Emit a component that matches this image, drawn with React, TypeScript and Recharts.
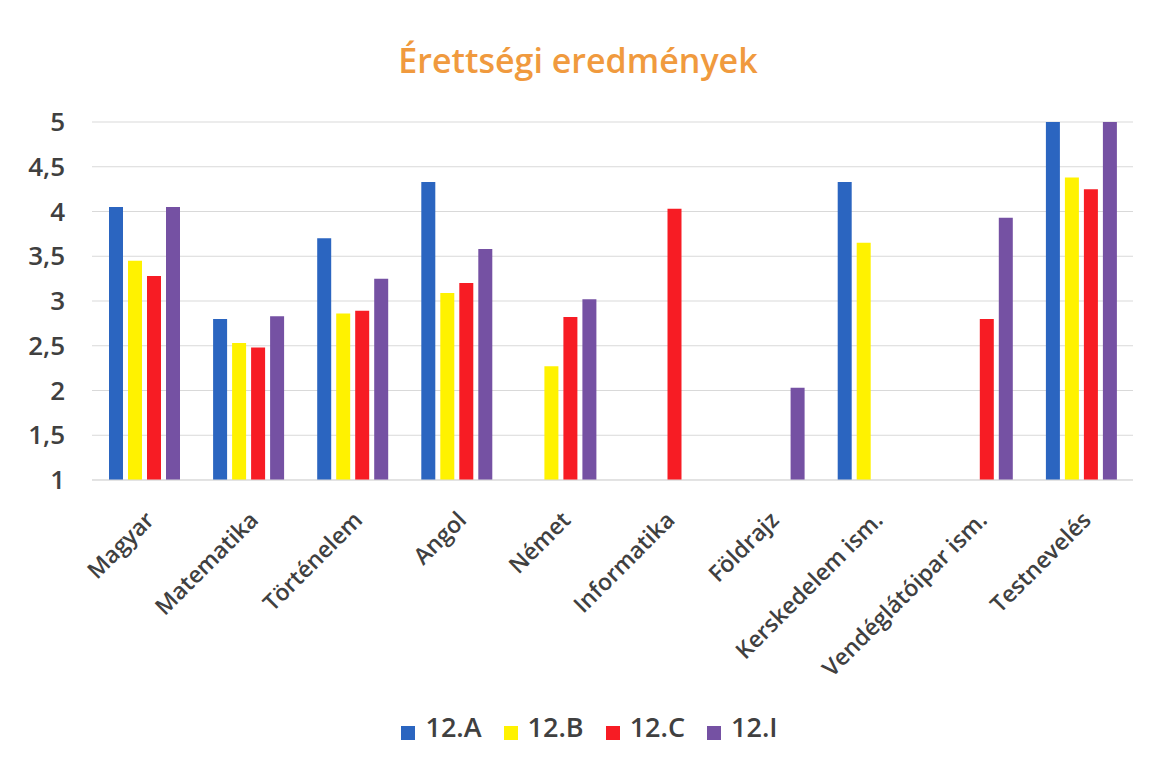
import { Bar, BarChart, CartesianGrid, Legend, XAxis, YAxis } from "recharts";

const subjects = [
  "Magyar",
  "Matematika",
  "Történelem",
  "Angol",
  "Német",
  "Informatika",
  "Földrajz",
  "Kerskedelem ism.",
  "Vendéglátóipar ism.",
  "Testnevelés",
];

const classA = [4.05, 2.8, 3.7, 4.33, null, null, null, 4.33, null, 5];
const classB = [3.45, 2.53, 2.86, 3.09, 2.27, null, null, 3.65, null, 4.38];
const classC = [3.28, 2.48, 2.89, 3.2, 2.82, 4.03, null, null, 2.8, 4.25];
const classI = [4.05, 2.83, 3.25, 3.58, 3.02, null, 2.03, null, 3.93, 5];

const yTicks = [1, 1.5, 2, 2.5, 3, 3.5, 4, 4.5, 5];

const data = subjects.map((name, i) => ({
  name,
  a: classA[i],
  b: classB[i],
  c: classC[i],
  i: classI[i],
}));

const FONT = "'Open Sans', sans-serif";
const TEXT = "#404040";

export default function App() {
  return (
    <div style={{ position: "relative", width: 1140, height: 745, fontFamily: FONT }}>
      <div
        style={{
          position: "absolute",
          top: 29,
          left: 0,
          width: 1140,
          textAlign: "center",
          fontSize: 34,
          fontWeight: 600,
          color: "#F09A3E",
        }}
      >
        Érettségi eredmények
      </div>
      <BarChart
        width={1140}
        height={745}
        data={data}
        margin={{ top: 114, right: 15, bottom: 5, left: 0 }}
        barSize={14}
        barGap={5}
      >
        <CartesianGrid vertical={false} stroke="#d9d9d9" />
        <XAxis
          dataKey="name"
          interval={0}
          height={228}
          axisLine={{ stroke: "#d9d9d9" }}
          tickLine={false}
          tickSize={0}
          tickMargin={30}
          angle={-45}
          textAnchor="end"
          tick={{ fill: TEXT, fontSize: 23, fontWeight: 600, fontFamily: FONT }}
        />
        <YAxis
          domain={[1, 5]}
          ticks={yTicks}
          width={84}
          axisLine={false}
          tickLine={false}
          tickSize={0}
          tickMargin={27}
          tickFormatter={(v: number) => String(v).replace(".", ",")}
          tick={{ fill: TEXT, fontSize: 26, fontWeight: 600, fontFamily: FONT }}
        />
        <Legend
          verticalAlign="bottom"
          height={40}
          iconType="square"
          iconSize={14}
          wrapperStyle={{ paddingLeft: 30 }}
          formatter={(value: string) => (
            <span style={{ color: TEXT, fontSize: 27, fontWeight: 600, paddingLeft: 6, paddingRight: 12 }}>
              {value}
            </span>
          )}
        />
        <Bar dataKey="a" name="12.A" fill="#2B65C0" isAnimationActive={false} />
        <Bar dataKey="b" name="12.B" fill="#FFF200" isAnimationActive={false} />
        <Bar dataKey="c" name="12.C" fill="#F71C24" isAnimationActive={false} />
        <Bar dataKey="i" name="12.I" fill="#7551A3" isAnimationActive={false} />
      </BarChart>
    </div>
  );
}
